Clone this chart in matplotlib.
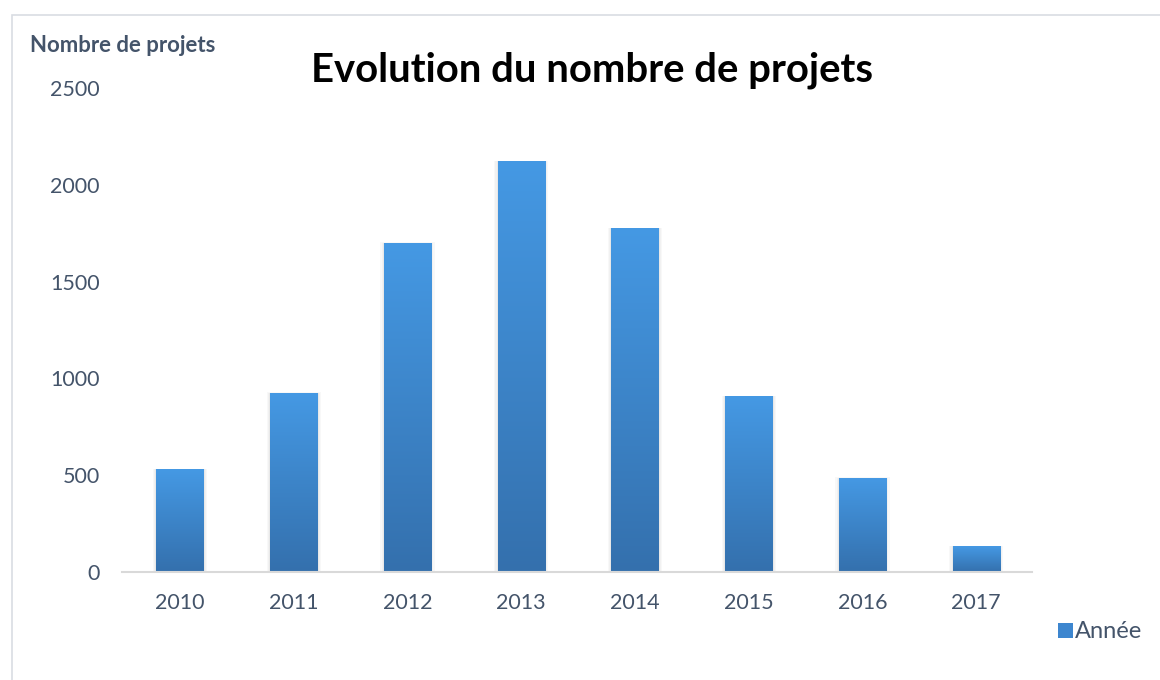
import matplotlib
matplotlib.use("Agg")
import matplotlib.pyplot as plt
import numpy as np
from matplotlib.colors import LinearSegmentedColormap
from matplotlib.patches import Rectangle

years = ["2010", "2011", "2012", "2013", "2014", "2015", "2016", "2017"]
projects = [532, 925, 1700, 2123, 1777, 909, 486, 134]
yticks = [0, 500, 1000, 1500, 2000, 2500]

title = "Evolution du nombre de projets"
ylabel = "Nombre de projets"
legend_label = "Année"

plt.rcParams['font.family'] = ['Lato', 'DejaVu Sans']
txt_color = "#44546A"
top_c = "#4599E4"
bot_c = "#3470AD"
cmap = LinearSegmentedColormap.from_list("g", [bot_c, top_c])

fig = plt.figure(figsize=(11.6, 6.8), dpi=100)
fig.patches.append(Rectangle((12/1160, -0.1), 1.2, 1 - 15/680 + 0.1, transform=fig.transFigure,
                             fill=False, edgecolor="#D9DDE3", linewidth=1.2))
ax = fig.add_axes([122/1160, 1 - 572/680, (1032 - 122)/1160, (572 - 88)/680])

x = np.arange(len(years))
w = 0.415
bars = ax.bar(x, projects, width=w, color=top_c, zorder=3)
grad = np.linspace(0, 1, 256).reshape(-1, 1)
for b, v in zip(bars, projects):
    x0 = b.get_x()
    # soft shadow
    for k, a in [(0.06, 0.05), (0.04, 0.06), (0.02, 0.08)]:
        ax.add_patch(Rectangle((x0 - k*0.5, 0), w + k, v + k*40, facecolor="#888888",
                               edgecolor="none", alpha=a, zorder=2))
    im = ax.imshow(grad, cmap=cmap, extent=[x0, x0 + w, 0, v], origin="lower",
                   aspect="auto", zorder=3.5)
    im.set_clip_path(b)

ax.set_xlim(-0.51, 7.49)
ax.set_ylim(0, 2500)
ax.set_xticks(x)
ax.set_xticklabels(years)
ax.set_yticks(yticks)
ax.tick_params(length=0, labelsize=15.5, colors=txt_color)
ax.tick_params(axis="x", pad=15)
ax.tick_params(axis="y", pad=16)
for s in ["top", "right", "left"]:
    ax.spines[s].set_visible(False)
ax.spines["bottom"].set_color("#D9D9D9")
ax.spines["bottom"].set_linewidth(1.5)
ax.spines["bottom"].set_zorder(4)

fig.text(592/1160, 1 - 70/680, title, ha="center", va="center", fontsize=28.8,
         fontweight="bold", color="black")
fig.text(30/1160, 1 - 45/680, ylabel, ha="left", va="center", fontsize=15.9,
         fontweight="bold", color=txt_color)

# legend
fig.patches.append(Rectangle((1058/1160, 1 - 638/680), 15/1160, 15/680, transform=fig.transFigure,
                             facecolor="#3D86CF", edgecolor="none"))
fig.text(1075/1160, 1 - 631/680, legend_label, ha="left", va="center", fontsize=17,
         color=txt_color)

fig.savefig("out.png", dpi=100)
